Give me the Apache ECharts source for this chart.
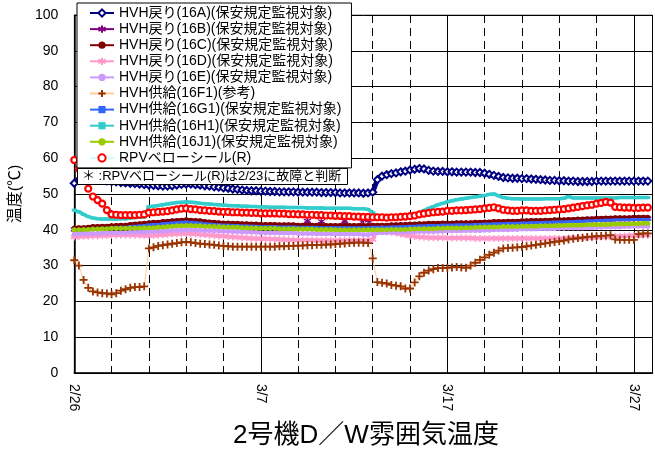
<!DOCTYPE html>
<html>
<head>
<meta charset="utf-8">
<script src="https://cdn.jsdelivr.net/npm/echarts@6/dist/echarts.min.js"></script>
<style>html,body{margin:0;padding:0;background:#fff}#c{width:655px;height:452px}</style>
</head>
<body>
<div id="c"></div>
<script>
// sampling: every 0.25 day from 2/26 (day 0) to day 30.75 (2012)
const startDay = 0;
const stepDay = 0.25;

const tickDays = [0, 10, 20, 30];
const tickLabels = ['2/26', '3/7', '3/17', '3/27'];

const names = [
  'HVH戻り(16A)(保安規定監視対象)',
  'HVH戻り(16B)(保安規定監視対象)',
  'HVH戻り(16C)(保安規定監視対象)',
  'HVH戻り(16D)(保安規定監視対象)',
  'HVH戻り(16E)(保安規定監視対象)',
  'HVH供給(16F1)(参考)',
  'HVH供給(16G1)(保安規定監視対象)',
  'HVH供給(16H1)(保安規定監視対象)',
  'HVH供給(16J1)(保安規定監視対象)',
  'RPVベローシール(R)'
];

// one row per day: d, d+.25, d+.5, d+.75
const v16A = [
  53, 54, 54.5, 54.6,   54.5, 54.2, 54, 53.7,   53.5, 53.4, 53.2, 53.1,   53, 52.9, 52.8, 52.6,
  52.5, 52.4, 52.3, 52.2,   52.2, 52.3, 52.5, 52.7,   52.8, 52.8, 52.6, 52.5,   52.3, 52.2, 52, 51.9,
  51.7, 51.6, 51.4, 51.3,   51.1, 51, 50.9, 50.9,   50.8, 50.8, 50.7, 50.7,   50.6, 50.6, 50.6, 50.6,
  50.5, 50.5, 50.5, 50.5,   50.5, 50.4, 50.4, 50.4,   50.4, 50.3, 50.3, 50.3,   50.3, 50.3, 50.2, 50.3,
  50.5, 54, 55, 55.4,   55.7, 55.9, 56.2, 56.4,   56.7, 56.9, 57.1, 57,   56.6, 56.4, 56.3, 56.3,
  56.2, 56.2, 56.1, 56.1,   56.1, 56.1, 56, 56,   55.8, 55.5, 55.2, 54.9,   54.6, 54.5, 54.4, 54.4,
  54.3, 54.3, 54.2, 54.1,   54, 53.9, 53.8, 53.8,   53.7, 53.7, 53.6, 53.6,   53.5, 53.5, 53.5, 53.5,
  53.6, 53.6, 53.6, 53.6,   53.6, 53.6, 53.6, 53.6,   53.6, 53.6, 53.6, 53.6];

const v16B = [
  40.1, 40.2, 40.2, 40.3,   40.5, 40.5, 40.6, 40.6,   40.7, 40.8, 40.9, 40.9,   41.1, 41.2, 41.3, 41.4,
  41.6, 41.7, 41.7, 41.9,   42, 42.1, 42.2, 42.3,   42.4, 42.3, 42.2, 42.1,   41.9, 41.8, 41.7, 41.6,
  41.5, 41.5, 41.4, 41.4,   41.3, 41.3, 41.2, 41.2,   41.1, 41.1, 41.1, 41.1,   41, 41, 41, 41,
  40.9, 40.9, 42.5, 40.9,   40.9, 42.4, 40.8, 40.8,   40.8, 40.8, 42.5, 40.8,   40.8, 40.8, 42.8, 42.6,
  40.9, 40.9, 40.9, 40.9,   41, 41, 41.1, 41.1,   41.2, 41.2, 41.3, 41.3,   41.4, 41.4, 41.4, 41.5,
  41.5, 41.5, 41.6, 41.6,   41.6, 41.6, 41.7, 41.7,   41.8, 41.8, 41.9, 41.9,   41.9, 42, 42, 42,
  42.1, 42.1, 42.2, 42.2,   42.2, 42.3, 42.3, 42.4,   42.4, 42.4, 42.5, 42.5,   42.6, 42.6, 42.7, 42.7,
  42.8, 42.8, 42.9, 42.9,   43, 43, 43, 43,   43.1, 43.1, 43.1, 43.1];

const v16C = [
  40.5, 40.6, 40.6, 40.7,   40.9, 40.9, 41, 41,   41.1, 41.2, 41.3, 41.3,   41.5, 41.6, 41.7, 41.8,
  42, 42.1, 42.1, 42.3,   42.4, 42.5, 42.6, 42.7,   42.8, 42.7, 42.6, 42.5,   42.3, 42.2, 42.1, 42,
  41.9, 41.9, 41.8, 41.8,   41.7, 41.7, 41.6, 41.6,   41.5, 41.5, 41.5, 41.5,   41.4, 41.4, 41.4, 41.4,
  41.3, 41.3, 41.3, 41.3,   41.3, 41.2, 41.2, 41.2,   41.2, 41.2, 41.2, 41.2,   41.2, 41.2, 41.2, 41.2,
  41.3, 41.3, 41.3, 41.3,   41.4, 41.4, 41.5, 41.5,   41.6, 41.6, 41.7, 41.7,   41.8, 41.8, 41.8, 41.9,
  41.9, 41.9, 42, 42,   42, 42, 42.1, 42.1,   42.2, 42.2, 42.3, 42.3,   42.3, 42.4, 42.4, 42.4,
  42.5, 42.5, 42.6, 42.6,   42.6, 42.7, 42.7, 42.8,   42.8, 42.8, 42.9, 42.9,   43, 43, 43.1, 43.1,
  43.2, 43.2, 43.3, 43.3,   43.4, 43.4, 43.4, 43.4,   43.5, 43.5, 43.5, 43.5];

const v16D = [
  38, 38.1, 38.2, 38.2,   38.3, 38.3, 38.4, 38.4,   38.5, 38.5, 38.5, 38.5,   38.5, 38.5, 38.5, 38.4,
  38.4, 38.4, 38.5, 38.6,   38.7, 38.8, 38.9, 38.9,   39, 38.9, 38.8, 38.7,   38.6, 38.5, 38.4, 38.3,
  38.2, 38.1, 38, 37.9,   37.8, 37.7, 37.6, 37.6,   37.5, 37.5, 37.4, 37.4,   37.3, 37.3, 37.2, 37.2,
  37.1, 37.1, 37.1, 37.1,   37, 37, 37, 37,   37, 37, 37, 37,   37, 37, 37, 37.1,
  37.3, 40, 40.2, 39.9,   39.3, 39.1, 38.8, 38.6,   38.3, 38.1, 38, 37.9,   37.8, 37.8, 37.8, 37.8,
  37.7, 37.7, 37.7, 37.7,   37.7, 37.7, 37.6, 37.6,   37.6, 37.6, 37.6, 37.6,   37.6, 37.6, 37.6, 37.6,
  37.6, 37.6, 37.6, 37.6,   37.6, 37.6, 37.6, 37.6,   37.6, 37.6, 37.7, 37.7,   37.7, 37.7, 37.8, 37.8,
  37.9, 38, 38, 38.1,   38.2, 38.2, 38.3, 38.3,   38.4, 38.4, 38.5, 38.5];

const v16E = [
  38.8, 38.9, 39, 39,   39, 39, 39.1, 39.1,   39.2, 39.2, 39.2, 39.2,   39.3, 39.3, 39.4, 39.4,
  39.5, 39.5, 39.6, 39.6,   39.7, 39.8, 39.9, 39.9,   40, 40, 39.9, 39.9,   39.8, 39.8, 39.7, 39.7,
  39.6, 39.6, 39.5, 39.5,   39.4, 39.4, 39.3, 39.3,   39.2, 39.2, 39.2, 39.2,   39.1, 39.1, 39.1, 39.1,
  39, 39, 39, 39,   38.9, 38.9, 38.9, 38.9,   38.8, 38.8, 38.8, 38.8,   38.8, 38.8, 38.7, 38.7,
  38.8, 39.2, 39.2, 39.2,   39.3, 39.3, 39.3, 39.3,   39.4, 39.4, 39.5, 39.5,   39.5, 39.5, 39.6, 39.6,
  39.7, 39.7, 39.7, 39.7,   39.8, 39.8, 39.8, 39.8,   39.9, 39.9, 40, 40,   40, 40, 40.1, 40.1,
  40.2, 40.2, 40.2, 40.2,   40.3, 40.3, 40.3, 40.3,   40.4, 40.4, 40.5, 40.5,   40.5, 40.5, 40.6, 40.6,
  40.7, 40.7, 40.8, 40.8,   40.8, 40.8, 40.9, 40.9,   41, 41, 41, 41];

const v16F1 = [
  31.5, 30, 26, 23.8,   22.8, 22.5, 22.3, 22.2,   22, 22.3, 23, 23.4,   23.8, 24, 24, 24.2,
  34.8, 35.1, 35.5, 35.7,   35.9, 36.1, 36.3, 36.5,   36.6, 36.5, 36.3, 36.1,   36, 35.9, 35.8, 35.6,
  35.5, 35.4, 35.3, 35.3,   35.3, 35.3, 35.3, 35.3,   35.3, 35.3, 35.3, 35.3,   35.4, 35.4, 35.5, 35.5,
  35.6, 35.6, 35.7, 35.7,   35.8, 35.8, 35.9, 35.9,   36, 36.1, 36.2, 36.3,   36.4, 36.4, 36.4, 36.3,
  32, 25.4, 25.2, 25,   24.6, 24.4, 24.2, 23.6,   23.6, 25.3, 27, 28,   28.6, 29, 29.3, 29.3,
  29.4, 29.5, 29.6, 29.5,   29.4, 30, 30.8, 31.6,   32.3, 33, 33.6, 34.2,   34.8, 34.9, 35, 35.1,
  35.2, 35.4, 35.6, 35.8,   36, 36.2, 36.4, 36.6,   36.8, 37, 37.3, 37.5,   37.7, 37.8, 38, 38.1,
  38.2, 38.3, 38.4, 38.5,   37.3, 37.2, 37.2, 37.2,   37.2, 38.8, 39, 39];

const v16G1 = [
  39.9, 40, 40, 40.1,   40.3, 40.3, 40.4, 40.4,   40.5, 40.6, 40.7, 40.7,   40.9, 41, 41.1, 41.2,
  41.4, 41.5, 41.5, 41.7,   41.8, 41.9, 42, 42.1,   42.2, 42.1, 42, 41.9,   41.7, 41.6, 41.5, 41.4,
  41.3, 41.3, 41.2, 41.2,   41.1, 41.1, 41, 41,   40.9, 40.9, 40.9, 40.9,   40.8, 40.8, 40.8, 40.8,
  40.7, 40.7, 40.7, 40.7,   40.7, 40.6, 40.6, 40.6,   40.6, 40.6, 40.6, 40.6,   40.6, 40.6, 40.6, 40.6,
  40.7, 40.7, 40.7, 40.7,   40.8, 40.8, 40.9, 40.9,   41, 41, 41.1, 41.1,   41.2, 41.2, 41.2, 41.3,
  41.3, 41.3, 41.4, 41.4,   41.4, 41.4, 41.5, 41.5,   41.6, 41.6, 41.7, 41.7,   41.7, 41.8, 41.8, 41.8,
  41.9, 41.9, 42, 42,   42, 42.1, 42.1, 42.2,   42.2, 42.2, 42.3, 42.3,   42.4, 42.4, 42.5, 42.5,
  42.6, 42.6, 42.7, 42.7,   42.8, 42.8, 42.8, 42.8,   42.9, 42.9, 42.9, 42.9];

const v16H1 = [
  45.5, 45, 44.3, 43.7,   43.3, 43.1, 43, 43,   43, 43, 43.1, 43.1,   43.3, 43.4, 43.5, 43.6,
  46.5, 46.6, 46.8, 47,   47.2, 47.4, 47.6, 47.7,   47.8, 47.7, 47.6, 47.4,   47.3, 47.2, 47.1, 47,
  46.9, 46.8, 46.7, 46.7,   46.6, 46.6, 46.5, 46.5,   46.4, 46.4, 46.3, 46.3,   46.3, 46.3, 46.2, 46.2,
  46.2, 46.2, 46.1, 46.1,   46.1, 46.1, 46, 46,   46, 46, 46, 46,   45.9, 45.9, 45.9, 45.7,
  44.8, 43.8, 43.6, 43.5,   43.5, 43.5, 43.6, 43.6,   43.8, 44.2, 44.8, 45.4,   46, 46.5, 47, 47.4,
  47.8, 48.1, 48.4, 48.6,   48.8, 49, 49.2, 49.4,   49.6, 49.9, 50, 49.5,   49, 48.8, 48.7, 48.7,
  48.6, 48.6, 48.6, 48.6,   48.6, 48.7, 48.7, 48.7,   48.7, 48.8, 49.3, 48.9,   48.9, 48.9, 48.9, 48.9,
  48.9, 48.9, 48.9, 48.9,   48.9, 49, 49, 49,   49, 49, 49, 49];

const v16J1 = [
  40, 40, 40.1, 40.1,   40.2, 40.2, 40.3, 40.3,   40.4, 40.4, 40.4, 40.4,   40.5, 40.5, 40.5, 40.6,
  40.6, 40.6, 40.7, 40.8,   40.9, 41, 41.1, 41.1,   41.2, 41.2, 41.1, 41.1,   41, 41, 40.9, 40.9,
  40.8, 40.8, 40.7, 40.7,   40.6, 40.6, 40.5, 40.5,   40.4, 40.4, 40.4, 40.4,   40.3, 40.3, 40.3, 40.3,
  40.2, 40.2, 40.2, 40.2,   40.1, 40.1, 40.1, 40.1,   40, 40, 40, 40,   40, 40, 40, 40,
  40, 40, 40, 40,   40.1, 40.1, 40.1, 40.1,   40.2, 40.2, 40.3, 40.3,   40.3, 40.3, 40.4, 40.4,
  40.5, 40.5, 40.5, 40.5,   40.6, 40.6, 40.7, 40.7,   40.8, 40.8, 40.8, 40.8,   40.9, 40.9, 40.9, 40.9,
  41, 41, 41, 41,   41.1, 41.1, 41.1, 41.1,   41.2, 41.2, 41.3, 41.3,   41.3, 41.3, 41.4, 41.4,
  41.4, 41.5, 41.5, 41.5,   41.6, 41.6, 41.6, 41.6,   41.7, 41.7, 41.8, 41.8];

const vRPV = [
  59.5, 57, 54, 51.5,   49.3, 48.3, 47.3, 45.5,   44.3, 44.2, 44.1, 44.1,   44.1, 44.1, 44.2, 44.3,
  44.8, 44.9, 45, 45.1,   45.2, 45.4, 45.7, 45.9,   46, 45.8, 45.7, 45.5,   45.4, 45.3, 45.2, 45.1,
  45, 45, 44.9, 44.9,   44.8, 44.8, 44.7, 44.7,   44.6, 44.6, 44.6, 44.6,   44.5, 44.5, 44.4, 44.4,
  44.3, 44.3, 44.2, 44.2,   44.1, 44.1, 44, 44,   43.9, 43.9, 43.8, 43.8,   43.7, 43.7, 43.6, 43.6,
  43.5, 43.5, 43.5, 43.4,   43.5, 43.5, 43.6, 43.7,   43.8, 44, 44.3, 44.5,   44.7, 44.9, 45, 45.1,
  45.3, 45.3, 45.4, 45.4,   45.5, 45.6, 45.7, 45.8,   46, 46.1, 46.3, 46,   45.6, 45.4, 45.3, 45.3,
  45.4, 45.4, 45.3, 45.3,   45.3, 45.4, 45.5, 45.6,   45.7, 45.8, 46, 46.2,   46.4, 46.6, 46.8, 47,
  47.3, 47.5, 47.8, 47.6,   46.4, 46.3, 46.2, 46.2,   46.1, 46.1, 46.2, 46.2];

const noteText = '＊ :RPVベローシール(R)は2/23に故障と判断';
const titleText = '2号機D／W雰囲気温度';
const yName = '温度(℃)';

const FONT = "'Liberation Sans', 'Noto Sans CJK JP', sans-serif";
const ASTER = 'path://M5,0L5,10M0.7,2.5L9.3,7.5M0.7,7.5L9.3,2.5';
const PLUS = 'path://M5,0L5,10M0,5L10,5';

function pairs(vals) { return vals.map((v, i) => [startDay + i * stepDay, v]); }

const styles = [
  { v: v16A, line: '#000080', lw: 5, symbol: 'diamond', size: 7, fill: '#ffffff', border: '#000080', bw: 2 },
  { v: v16B, line: '#800080', lw: 1.5, symbol: ASTER, size: 7, fill: '#800080', border: '#800080', bw: 1.3 },
  { v: v16C, line: '#800000', lw: 4, symbol: 'circle', size: 5, fill: '#800000', border: '#800000', bw: 0 },
  { v: v16D, line: '#FF99CC', lw: 3.5, symbol: ASTER, size: 7, fill: '#FF99CC', border: '#FF99CC', bw: 1.5 },
  { v: v16E, line: '#CC99FF', lw: 3.5, symbol: 'circle', size: 5, fill: '#CC99FF', border: '#CC99FF', bw: 0 },
  { v: v16F1, line: '#FFCC99', lw: 1, symbol: PLUS, size: 8, fill: '#993300', border: '#993300', bw: 1.8 },
  { v: v16G1, line: '#3366FF', lw: 2.5, symbol: 'rect', size: [5, 3], fill: '#3366FF', border: '#3366FF', bw: 0 },
  { v: v16H1, line: '#33CCCC', lw: 3.5, symbol: 'rect', size: [5, 3], fill: '#33CCCC', border: '#33CCCC', bw: 0 },
  { v: v16J1, line: '#99CC00', lw: 4, symbol: 'circle', size: 5, fill: '#99CC00', border: '#99CC00', bw: 0 },
  { v: vRPV, line: '#CCFFFF', lw: 1, symbol: 'circle', size: 6, fill: '#ffffff', border: '#FF0000', bw: 2.2 }
];

const series = styles.map((s, i) => ({
  name: names[i],
  type: 'line',
  data: pairs(s.v),
  symbol: s.symbol,
  symbolSize: s.size,
  showSymbol: true,
  showAllSymbol: true,
  lineStyle: { color: s.line, width: s.lw },
  itemStyle: { color: s.fill, borderColor: s.border, borderWidth: s.bw },
  emphasis: { disabled: true },
  animation: false
}));

const chart = echarts.init(document.getElementById('c'), null, { renderer: 'canvas' });
chart.setOption({
  animation: false,
  backgroundColor: '#ffffff',
  title: [
    { text: titleText, left: 361, textAlign: 'center', top: 418,
      textStyle: { fontFamily: FONT, fontSize: 26, fontWeight: 'normal', color: '#000' } },
    { text: noteText, left: 77, top: 168, backgroundColor: '#ffffff', borderColor: '#000', borderWidth: 1,
      padding: [1, 6, 1, 5], z: 10,
      textStyle: { fontFamily: FONT, fontSize: 13, fontWeight: 'normal', color: '#000', lineHeight: 15 } }
  ],
  legend: {
    orient: 'vertical', left: 77, top: 3, z: 10,
    backgroundColor: '#ffffff', borderColor: '#000', borderWidth: 1,
    padding: [3, 10, 3, 12], itemGap: 2.1, itemWidth: 24, itemHeight: 9,
    textStyle: { fontFamily: FONT, fontSize: 14, color: '#000', lineHeight: 14 },
    data: names
  },
  grid: { left: 70, top: 15, right: 2.5, bottom: 79, show: true, borderColor: '#808080', borderWidth: 1 },
  xAxis: [
    { type: 'value', min: 0, max: 31, interval: 2, position: 'bottom',
      axisLine: { show: true, onZero: false, lineStyle: { color: '#000', width: 1.5 } },
      axisTick: { show: true, inside: true, length: 5, lineStyle: { color: '#000' } },
      axisLabel: { rotate: -90, fontFamily: FONT, fontSize: 14, color: '#000', margin: 11,
        formatter: function (v) { const k = tickDays.indexOf(v); return k >= 0 ? tickLabels[k] : ''; } },
      splitLine: { show: true, lineStyle: { color: '#000', width: 1, type: [8, 5] } } },
    { type: 'value', min: 0, max: 31, interval: 10, position: 'bottom',
      axisLine: { show: false }, axisTick: { show: false }, axisLabel: { show: false },
      splitLine: { show: true, lineStyle: { color: '#000', width: 1 } } }
  ],
  yAxis: {
    type: 'value', min: 0, max: 100, interval: 10,
    name: yName, nameLocation: 'middle', nameRotate: 90, nameGap: 43,
    nameTextStyle: { fontFamily: FONT, fontSize: 16, color: '#000' },
    axisLine: { show: true, onZero: false, lineStyle: { color: '#000', width: 1.5 } },
    axisTick: { show: false },
    axisLabel: { fontFamily: FONT, fontSize: 14, color: '#000', margin: 16 },
    splitLine: { show: true, lineStyle: { color: '#000', width: 1 } }
  },
  series: series
});
</script>
</body>
</html>
